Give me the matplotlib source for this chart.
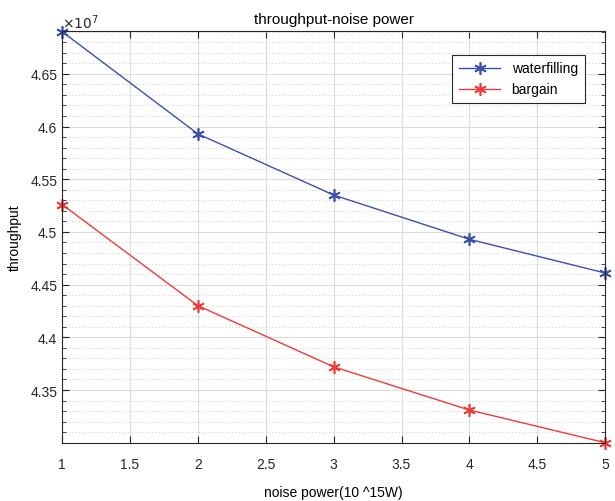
import matplotlib
matplotlib.use("Agg")
import matplotlib.pyplot as plt
from matplotlib.ticker import MultipleLocator, FuncFormatter
import numpy as np

noise_power = [1, 2, 3, 4, 5]
waterfilling = [4.690e7, 4.593e7, 4.535e7, 4.493e7, 4.461e7]
bargain = [4.526e7, 4.430e7, 4.372e7, 4.331e7, 4.300e7]
y_ticks = [4.35e7, 4.40e7, 4.45e7, 4.50e7, 4.55e7, 4.60e7, 4.65e7]

plt.rcParams['font.family'] = ['Liberation Sans Narrow', 'Liberation Sans', 'DejaVu Sans']
plt.rcParams['font.size'] = 10

fig = plt.figure(figsize=(6.15, 5.02), dpi=100)
ax = fig.add_axes([0.101, 0.1155, 0.883, 0.8205])

ax.plot(noise_power, waterfilling, color='#3a4fb0', marker=(6, 2, 0), markersize=9, mew=1.2, lw=1,
        label='waterfilling', clip_on=False)
ax.plot(noise_power, bargain, color='#f03a3a', marker=(6, 2, 0), markersize=9, mew=1.2, lw=1,
        label='bargain', clip_on=False)

ax.set_xlim(1, 5)
ax.set_ylim(4.2997e7, 4.6905e7)
ax.xaxis.set_major_locator(MultipleLocator(0.5))
ax.set_yticks(y_ticks)
ax.yaxis.set_minor_locator(MultipleLocator(0.01e7))
ax.yaxis.set_major_formatter(FuncFormatter(lambda v, p: f"{v/1e7:g}"))
ax.xaxis.set_major_formatter(FuncFormatter(lambda v, p: f"{v:g}"))

ax.grid(True, which='major', color='#dcdcdc', lw=0.8)
ax.grid(True, which='minor', axis='y', color='#b8b8b8', lw=0.6, linestyle=(0, (1, 3)))
ax.tick_params(which='both', direction='in', top=True, right=True, colors='#262626', labelsize=10)
ax.tick_params(which='major', length=5)
ax.tick_params(which='minor', length=3)
ax.tick_params(axis='x', pad=10)
for s in ax.spines.values():
    s.set_color('#262626')
    s.set_linewidth(0.8)

ax.text(0.0, 1.0, r'$\times10^{7}$', transform=ax.transAxes, ha='left', va='bottom', fontsize=10, color='#262626')
ax.set_title('throughput-noise power', fontsize=11, pad=6)
ax.set_xlabel('noise power(10 ^15W)', fontsize=10, labelpad=10)
ax.set_ylabel('throughput', fontsize=10, labelpad=6)

leg = ax.legend(loc='upper right', bbox_to_anchor=(0.975, 0.96), fancybox=False, edgecolor='#262626',
                framealpha=1, fontsize=10, handlelength=3, borderpad=0.5)
leg.get_frame().set_linewidth(0.8)

fig.savefig('out.png', dpi=100)
